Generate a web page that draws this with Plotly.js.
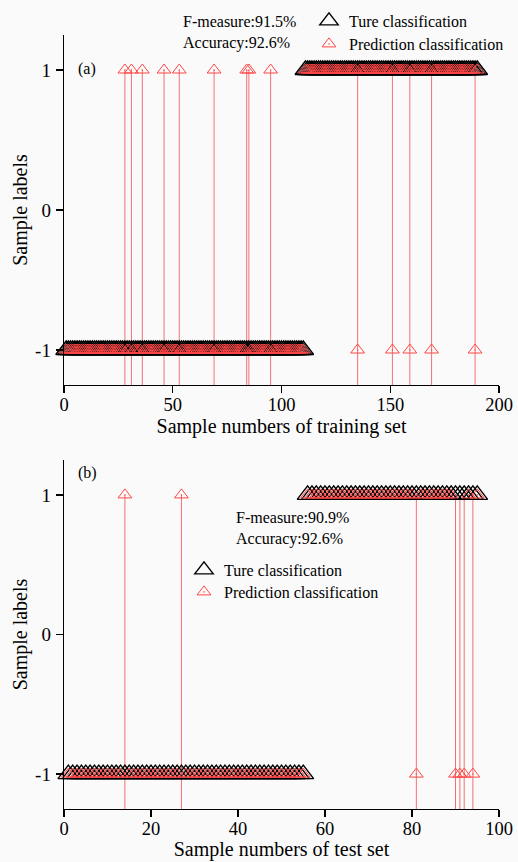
<!DOCTYPE html>
<html>
<head>
<meta charset="utf-8">
<script src="https://cdn.plot.ly/plotly-3.0.1.min.js"></script>
<style>html,body{margin:0;padding:0;background:#fafafa;}#chart{width:518px;height:862px;}</style>
</head>
<body>
<div id="chart"></div>
<script>
// ---------- Data ----------
// (a) training set: true labels, sample 1..190
var trainTrue = [
  -1,-1,-1,-1,-1,-1,-1,-1,-1,-1,
  -1,-1,-1,-1,-1,-1,-1,-1,-1,-1,
  -1,-1,-1,-1,-1,-1,-1,-1,-1,-1,
  -1,-1,-1,-1,-1,-1,-1,-1,-1,-1,
  -1,-1,-1,-1,-1,-1,-1,-1,-1,-1,
  -1,-1,-1,-1,-1,-1,-1,-1,-1,-1,
  -1,-1,-1,-1,-1,-1,-1,-1,-1,-1,
  -1,-1,-1,-1,-1,-1,-1,-1,-1,-1,
  -1,-1,-1,-1,-1,-1,-1,-1,-1,-1,
  -1,-1,-1,-1,-1,-1,-1,-1,-1,-1,
  -1,-1,-1,-1,-1,-1,-1,-1,-1,-1,
   1, 1, 1, 1, 1, 1, 1, 1, 1, 1,
   1, 1, 1, 1, 1, 1, 1, 1, 1, 1,
   1, 1, 1, 1, 1, 1, 1, 1, 1, 1,
   1, 1, 1, 1, 1, 1, 1, 1, 1, 1,
   1, 1, 1, 1, 1, 1, 1, 1, 1, 1,
   1, 1, 1, 1, 1, 1, 1, 1, 1, 1,
   1, 1, 1, 1, 1, 1, 1, 1, 1, 1,
   1, 1, 1, 1, 1, 1, 1, 1, 1, 1
];
// (a) training set: predicted labels
var trainPred = [
  -1,-1,-1,-1,-1,-1,-1,-1,-1,-1,
  -1,-1,-1,-1,-1,-1,-1,-1,-1,-1,
  -1,-1,-1,-1,-1,-1,-1, 1,-1,-1,
   1,-1,-1,-1,-1, 1,-1,-1,-1,-1,
  -1,-1,-1,-1,-1, 1,-1,-1,-1,-1,
  -1,-1, 1,-1,-1,-1,-1,-1,-1,-1,
  -1,-1,-1,-1,-1,-1,-1,-1, 1,-1,
  -1,-1,-1,-1,-1,-1,-1,-1,-1,-1,
  -1,-1,-1, 1, 1,-1,-1,-1,-1,-1,
  -1,-1,-1,-1, 1,-1,-1,-1,-1,-1,
  -1,-1,-1,-1,-1,-1,-1,-1,-1,-1,
   1, 1, 1, 1, 1, 1, 1, 1, 1, 1,
   1, 1, 1, 1, 1, 1, 1, 1, 1, 1,
   1, 1, 1, 1,-1, 1, 1, 1, 1, 1,
   1, 1, 1, 1, 1, 1, 1, 1, 1, 1,
  -1, 1, 1, 1, 1, 1, 1, 1,-1, 1,
   1, 1, 1, 1, 1, 1, 1, 1,-1, 1,
   1, 1, 1, 1, 1, 1, 1, 1, 1, 1,
   1, 1, 1, 1, 1, 1, 1, 1,-1, 1
];
// (b) test set: true labels, sample 1..95
var testTrue = [
  -1,-1,-1,-1,-1,-1,-1,-1,-1,-1,
  -1,-1,-1,-1,-1,-1,-1,-1,-1,-1,
  -1,-1,-1,-1,-1,-1,-1,-1,-1,-1,
  -1,-1,-1,-1,-1,-1,-1,-1,-1,-1,
  -1,-1,-1,-1,-1,-1,-1,-1,-1,-1,
  -1,-1,-1,-1,-1, 1, 1, 1, 1, 1,
   1, 1, 1, 1, 1, 1, 1, 1, 1, 1,
   1, 1, 1, 1, 1, 1, 1, 1, 1, 1,
   1, 1, 1, 1, 1, 1, 1, 1, 1, 1,
   1, 1, 1, 1, 1
];
// (b) test set: predicted labels
var testPred = [
  -1,-1,-1,-1,-1,-1,-1,-1,-1,-1,
  -1,-1,-1, 1,-1,-1,-1,-1,-1,-1,
  -1,-1,-1,-1,-1,-1, 1,-1,-1,-1,
  -1,-1,-1,-1,-1,-1,-1,-1,-1,-1,
  -1,-1,-1,-1,-1,-1,-1,-1,-1,-1,
  -1,-1,-1,-1,-1, 1, 1, 1, 1, 1,
   1, 1, 1, 1, 1, 1, 1, 1, 1, 1,
   1, 1, 1, 1, 1, 1, 1, 1, 1, 1,
  -1, 1, 1, 1, 1, 1, 1, 1, 1,-1,
  -1,-1, 1,-1, 1
];
var trainMetrics = ["F-measure:91.5%", "Accuracy:92.6%"];
var testMetrics  = ["F-measure:90.9%", "Accuracy:92.6%"];
var seriesNames  = ["Ture classification", "Prediction classification"];
var yTickVals = [-1, 0, 1];
var yTickText = ["-1", "0", "1"];

// ---------- Helpers ----------
function sampleIdx(arr){ return arr.map(function(_, i){ return i + 1; }); }
var Y_MIN = -1.25, Y_MAX = 1.25;
function stems(trueArr, predArr){
  var xs = [], ys = [];
  for (var i = 0; i < trueArr.length; i++){
    if (trueArr[i] !== predArr[i]){
      xs.push(i + 1, i + 1, null);
      ys.push(Math.max(trueArr[i], predArr[i]), Y_MIN, null);
    }
  }
  return {x: xs, y: ys};
}

var FONT = "'Liberation Serif', 'Times New Roman', 'DejaVu Serif', serif";
var RED = "rgb(255,70,70)";
var STEM = "rgba(240,80,80,0.8)";

var sA = stems(trainTrue, trainPred);
var sB = stems(testTrue, testPred);

var BLACK_SIZE = 18, RED_SIZE = 12;

var traces = [
  {x: sA.x, y: sA.y, xaxis: "x", yaxis: "y", mode: "lines", line: {color: STEM, width: 1}, showlegend: false, hoverinfo: "skip"},
  {x: sampleIdx(trainTrue), y: trainTrue, xaxis: "x", yaxis: "y", mode: "markers", name: seriesNames[0], legend: "legend", cliponaxis: false,
   marker: {symbol: "triangle-up-open", size: BLACK_SIZE, color: "#000", line: {color: "#000", width: 1.4}}},
  {x: sampleIdx(trainPred), y: trainPred, xaxis: "x", yaxis: "y", mode: "markers", name: seriesNames[1], legend: "legend2", cliponaxis: false,
   marker: {symbol: "triangle-up-open-dot", size: RED_SIZE, color: RED, line: {color: RED, width: 1}}},
  {x: sB.x, y: sB.y, xaxis: "x2", yaxis: "y2", mode: "lines", line: {color: STEM, width: 1}, showlegend: false, hoverinfo: "skip"},
  {x: sampleIdx(testTrue), y: testTrue, xaxis: "x2", yaxis: "y2", mode: "markers", name: seriesNames[0], legend: "legend3", cliponaxis: false,
   marker: {symbol: "triangle-up-open", size: BLACK_SIZE, color: "#000", line: {color: "#000", width: 1.4}}},
  {x: sampleIdx(testPred), y: testPred, xaxis: "x2", yaxis: "y2", mode: "markers", name: seriesNames[1], legend: "legend4", cliponaxis: false,
   marker: {symbol: "triangle-up-open-dot", size: RED_SIZE, color: RED, line: {color: RED, width: 1}}}
];

var H = 862, L = 64, R = 19, W = 518 - L - R;
function py(px){ return (H - px) / H; }
function pxX(px){ return (px - L) / W; }

function xAxis(range, dtick, title, anchor, standoff){
  return {
    range: range, dtick: dtick, tick0: 0, anchor: anchor,
    showgrid: false, zeroline: false, showline: true, linecolor: "#000", linewidth: 1.3,
    ticks: "outside", ticklen: 7, tickwidth: 1.3, tickcolor: "#000",
    ticklabelstandoff: -5,
    tickfont: {family: FONT, size: 18.5, color: "#000"},
    title: {text: title, font: {family: FONT, size: 20, color: "#000"}, standoff: standoff},
    fixedrange: true
  };
}
function yAxis(domain, anchor){
  return {
    domain: domain, range: [Y_MIN, Y_MAX], anchor: anchor,
    tickvals: yTickVals, ticktext: yTickText,
    showgrid: false, zeroline: false, showline: true, linecolor: "#000", linewidth: 1.3,
    ticks: "outside", ticklen: 7, tickwidth: 1.3, tickcolor: "#000",
    ticklabelstandoff: 1,
    tickfont: {family: FONT, size: 19, color: "#000"},
    title: {text: "Sample labels", font: {family: FONT, size: 20, color: "#000"}, standoff: 2},
    fixedrange: true
  };
}

function ann(text, xpx, ypx){
  return {text: text, xref: "paper", yref: "paper", x: pxX(xpx), y: py(ypx), xanchor: "left", yanchor: "middle",
          showarrow: false, font: {family: FONT, size: 16, color: "#000"}};
}
function leg(xpx, ypxCenter){
  return {x: pxX(xpx), y: py(ypxCenter - 16), xanchor: "left", yanchor: "top", bgcolor: "rgba(0,0,0,0)",
          font: {family: FONT, size: 16, color: "#000"}, itemwidth: 30};
}

var layout = {
  width: 518, height: 862,
  margin: {l: L, r: R, t: 0, b: 0},
  paper_bgcolor: "#fafafa", plot_bgcolor: "#fafafa",
  font: {family: FONT, color: "#000"},
  xaxis: xAxis([0, 200], 50, "Sample numbers of training set", "y", 5),
  yaxis: yAxis([py(385), py(35)], "x"),
  xaxis2: xAxis([0, 100], 20, "Sample numbers of test set", "y2", 1),
  yaxis2: yAxis([py(809), py(460)], "x2"),
  legend:  leg(309, 20),
  legend2: leg(309, 43),
  legend3: leg(184, 569),
  legend4: leg(184, 591),
  annotations: [
    ann("(a)", 76, 69),
    ann(trainMetrics[0], 181, 21),
    ann(trainMetrics[1], 181, 43),
    ann("(b)", 76, 473),
    ann(testMetrics[0], 234, 517),
    ann(testMetrics[1], 234, 539)
  ]
};

Plotly.newPlot("chart", traces, layout, {displayModeBar: false, staticPlot: true});
</script>
</body>
</html>
